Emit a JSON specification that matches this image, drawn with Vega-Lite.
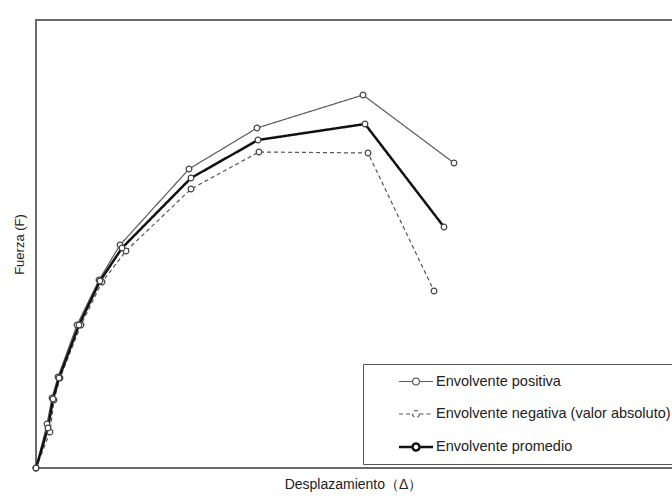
{
  "$schema": "https://vega.github.io/schema/vega-lite/v6.json",
  "width": 640,
  "height": 448,
  "autosize": {"type": "none"},
  "padding": {"left": 36, "top": 20, "right": 0, "bottom": 31},
  "background": "white",
  "config": {
    "view": {"stroke": "#6a6a6a", "strokeWidth": 2},
    "font": "Liberation Sans",
    "legend": {
      "orient": "none", "legendX": 327, "legendY": 344,
      "symbolType": "M-2,0H-0.41 M0.41,0H2 M0.41,0A0.41,0.41 0 1,1 -0.41,0A0.41,0.41 0 1,1 0.41,0",
      "symbolSize": 289,
      "symbolOffset": 35,
      "labelOffset": 10,
      "labelFontSize": 14.5, "labelFont": "Liberation Sans", "labelColor": "#222",
      "strokeColor": "#555555", "padding": 8, "rowPadding": 16.5,
      "symbolFillColor": "white",
      "labelLimit": 400
    }
  },
  "data": {
    "values": [
      {"serie": "Envolvente positiva", "desplazamiento": 0, "fuerza": 0},
      {"serie": "Envolvente positiva", "desplazamiento": 1.1, "fuerza": 4.4},
      {"serie": "Envolvente positiva", "desplazamiento": 1.6, "fuerza": 7.0},
      {"serie": "Envolvente positiva", "desplazamiento": 2.2, "fuerza": 9.1},
      {"serie": "Envolvente positiva", "desplazamiento": 4.1, "fuerza": 14.3},
      {"serie": "Envolvente positiva", "desplazamiento": 6.3, "fuerza": 18.8},
      {"serie": "Envolvente positiva", "desplazamiento": 8.4, "fuerza": 22.3},
      {"serie": "Envolvente positiva", "desplazamiento": 15.3, "fuerza": 29.9},
      {"serie": "Envolvente positiva", "desplazamiento": 22.1, "fuerza": 34.0},
      {"serie": "Envolvente positiva", "desplazamiento": 32.7, "fuerza": 37.3},
      {"serie": "Envolvente positiva", "desplazamiento": 41.8, "fuerza": 30.5},
      {"serie": "Envolvente negativa (valor absoluto)", "desplazamiento": 0, "fuerza": 0},
      {"serie": "Envolvente negativa (valor absoluto)", "desplazamiento": 1.4, "fuerza": 3.6},
      {"serie": "Envolvente negativa (valor absoluto)", "desplazamiento": 1.8, "fuerza": 6.8},
      {"serie": "Envolvente negativa (valor absoluto)", "desplazamiento": 2.4, "fuerza": 9.0},
      {"serie": "Envolvente negativa (valor absoluto)", "desplazamiento": 4.5, "fuerza": 14.3},
      {"serie": "Envolvente negativa (valor absoluto)", "desplazamiento": 6.6, "fuerza": 18.6},
      {"serie": "Envolvente negativa (valor absoluto)", "desplazamiento": 9.0, "fuerza": 21.7},
      {"serie": "Envolvente negativa (valor absoluto)", "desplazamiento": 15.5, "fuerza": 27.9},
      {"serie": "Envolvente negativa (valor absoluto)", "desplazamiento": 22.3, "fuerza": 31.6},
      {"serie": "Envolvente negativa (valor absoluto)", "desplazamiento": 33.2, "fuerza": 31.5},
      {"serie": "Envolvente negativa (valor absoluto)", "desplazamiento": 39.8, "fuerza": 17.7},
      {"serie": "Envolvente promedio", "desplazamiento": 0, "fuerza": 0},
      {"serie": "Envolvente promedio", "desplazamiento": 1.2, "fuerza": 4.0},
      {"serie": "Envolvente promedio", "desplazamiento": 1.7, "fuerza": 6.9},
      {"serie": "Envolvente promedio", "desplazamiento": 2.3, "fuerza": 9.0},
      {"serie": "Envolvente promedio", "desplazamiento": 4.3, "fuerza": 14.3},
      {"serie": "Envolvente promedio", "desplazamiento": 6.4, "fuerza": 18.7},
      {"serie": "Envolvente promedio", "desplazamiento": 8.6, "fuerza": 22.0},
      {"serie": "Envolvente promedio", "desplazamiento": 15.5, "fuerza": 29.0},
      {"serie": "Envolvente promedio", "desplazamiento": 22.2, "fuerza": 32.8},
      {"serie": "Envolvente promedio", "desplazamiento": 32.9, "fuerza": 34.4},
      {"serie": "Envolvente promedio", "desplazamiento": 40.8, "fuerza": 24.1}
    ]
  },
  "encoding": {
    "x": {
      "field": "desplazamiento",
      "type": "quantitative",
      "scale": {"domain": [0, 64], "nice": false, "zero": false},
      "axis": {
        "title": "Desplazamiento（Δ）",
        "labels": false, "ticks": false, "grid": false, "domain": false,
        "titleFontSize": 14, "titleFontWeight": "normal", "titleColor": "#222",
        "titlePadding": 9, "titleX": 317, "titleFont": "Liberation Sans"
      }
    },
    "y": {
      "field": "fuerza",
      "type": "quantitative",
      "scale": {"domain": [0, 44.8], "nice": false, "zero": false},
      "axis": {
        "title": "Fuerza (F)",
        "labels": false, "ticks": false, "grid": false, "domain": false,
        "titleFontSize": 13, "titleFontWeight": "normal", "titleColor": "#222",
        "titlePadding": 10, "titleFont": "Liberation Sans"
      }
    }
  },
  "layer": [
    {
      "mark": {"type": "line", "clip": false},
      "encoding": {
        "color": {
          "field": "serie", "type": "ordinal",
          "scale": {
            "type": "ordinal",
            "domain": ["Envolvente positiva", "Envolvente negativa (valor absoluto)", "Envolvente promedio"],
            "range": ["#5a5a5a", "#555555", "#111111"]
          },
          "legend": {"title": null}
        },
        "strokeDash": {
          "field": "serie", "type": "ordinal",
          "scale": {
            "type": "ordinal",
            "domain": ["Envolvente positiva", "Envolvente negativa (valor absoluto)", "Envolvente promedio"],
            "range": [[1, 0], [4, 3], [1, 0]]
          },
          "legend": {"title": null}
        },
        "strokeWidth": {
          "field": "serie", "type": "ordinal",
          "scale": {
            "type": "ordinal",
            "domain": ["Envolvente positiva", "Envolvente negativa (valor absoluto)", "Envolvente promedio"],
            "range": [1.2, 1.2, 2.5]
          },
          "legend": {"title": null}
        }
      }
    },
    {
      "mark": {"type": "point", "filled": false, "fill": "white", "fillOpacity": 1, "stroke": "#444444", "strokeWidth": 1.2, "size": 32, "opacity": 1, "clip": false},
      "encoding": {"detail": {"field": "serie", "type": "nominal"}}
    }
  ]
}
